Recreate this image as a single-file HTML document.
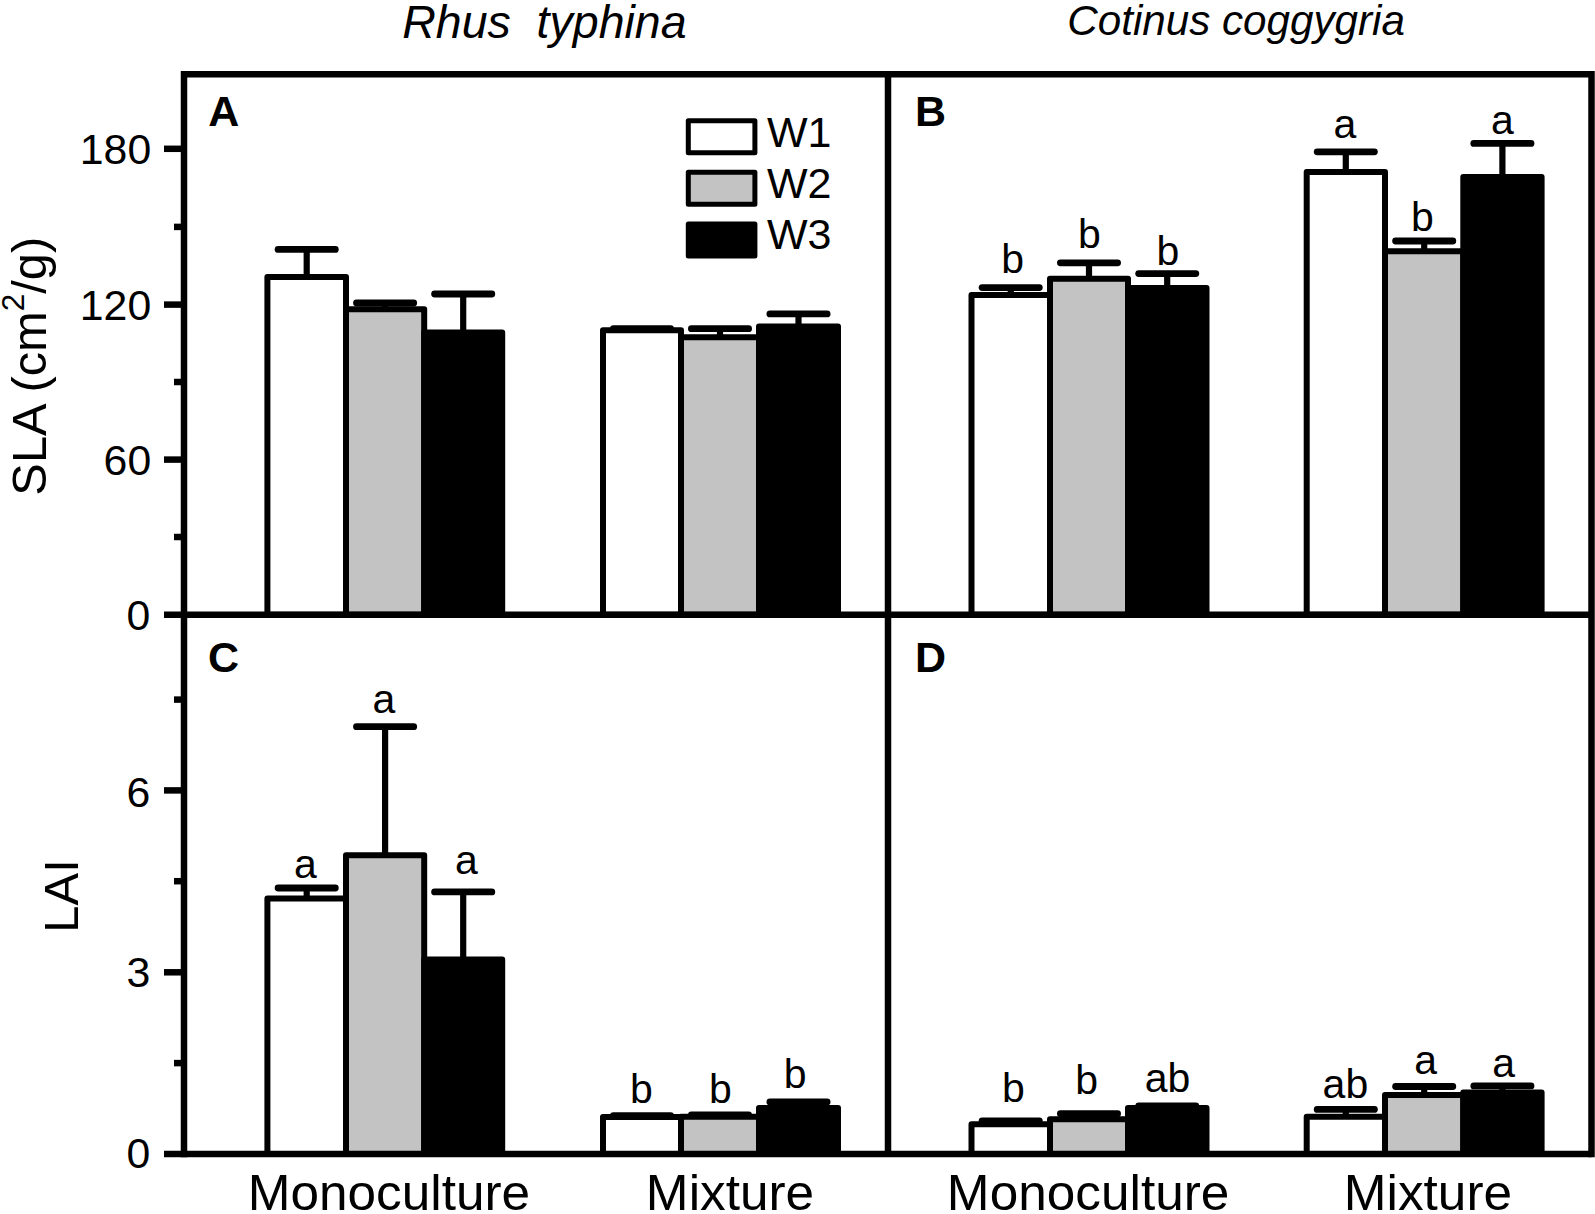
<!DOCTYPE html>
<html lang="en"><head><meta charset="utf-8"><title>SLA and LAI of Rhus typhina and Cotinus coggygria</title>
<style>
html,body{margin:0;padding:0;background:#fff;}
body{width:1595px;height:1214px;overflow:hidden;}
svg{display:block;}
text{font-family:"Liberation Sans", Arial, Helvetica, sans-serif;fill:#000;}
.ax{stroke:#000;stroke-width:6.5;fill:none;stroke-linecap:butt;}
.bar{stroke:#000;stroke-width:6;stroke-linejoin:round;}
.err{stroke:#000;stroke-width:6.2;fill:none;}
.cap{stroke:#000;stroke-width:6.8;fill:none;stroke-linecap:round;}
.sig{font-size:41px;text-anchor:middle;}
.tick{font-size:42.8px;text-anchor:end;}
.cat{font-size:49.6px;text-anchor:middle;}
.pl{font-size:43px;font-weight:bold;}
.leg{font-size:43px;}
</style></head><body>
<svg width="1595" height="1214" viewBox="0 0 1595 1214">
<rect x="0" y="0" width="1595" height="1214" fill="#fff"/>

<g>
<rect class="bar" x="346" y="309.2" width="78.2" height="305.5" fill="#c3c3c3"/>
<rect class="bar" x="267.4" y="277" width="78.6" height="337.7" fill="#fff"/>
<rect class="bar" x="424.2" y="332.5" width="78.0" height="282.2" fill="#000"/>
<line class="err" x1="306.7" y1="277" x2="306.7" y2="249.4"/>
<line class="cap" x1="278.1" y1="249.4" x2="335.3" y2="249.4"/>
<line class="err" x1="385.1" y1="309.2" x2="385.1" y2="303"/>
<line class="cap" x1="356.5" y1="303" x2="413.7" y2="303"/>
<line class="err" x1="463.2" y1="332.5" x2="463.2" y2="294"/>
<line class="cap" x1="434.6" y1="294" x2="491.8" y2="294"/>
</g>
<g>
<rect class="bar" x="681" y="337.3" width="78.0" height="277.4" fill="#c3c3c3"/>
<rect class="bar" x="603" y="330.3" width="78.0" height="284.4" fill="#fff"/>
<rect class="bar" x="759" y="326.5" width="79.0" height="288.2" fill="#000"/>
<line class="err" x1="642.0" y1="330.3" x2="642.0" y2="328.7"/>
<line class="cap" x1="613.4" y1="328.7" x2="670.6" y2="328.7"/>
<line class="err" x1="720.0" y1="337.3" x2="720.0" y2="328.7"/>
<line class="cap" x1="691.4" y1="328.7" x2="748.6" y2="328.7"/>
<line class="err" x1="798.5" y1="326.5" x2="798.5" y2="313.9"/>
<line class="cap" x1="769.9" y1="313.9" x2="827.1" y2="313.9"/>
</g>
<g>
<rect class="bar" x="1050" y="278.8" width="78.0" height="335.9" fill="#c3c3c3"/>
<rect class="bar" x="971.5" y="294.9" width="78.5" height="319.8" fill="#fff"/>
<rect class="bar" x="1128" y="287.9" width="78.5" height="326.8" fill="#000"/>
<line class="err" x1="1010.8" y1="294.9" x2="1010.8" y2="287.6"/>
<line class="cap" x1="982.1" y1="287.6" x2="1039.3" y2="287.6"/>
<line class="err" x1="1089.0" y1="278.8" x2="1089.0" y2="262.8"/>
<line class="cap" x1="1060.4" y1="262.8" x2="1117.6" y2="262.8"/>
<line class="err" x1="1167.2" y1="287.9" x2="1167.2" y2="273.6"/>
<line class="cap" x1="1138.7" y1="273.6" x2="1195.8" y2="273.6"/>
<text class="sig" x="1012.7" y="273">b</text>
<text class="sig" x="1089.5" y="248.3">b</text>
<text class="sig" x="1168" y="265.4">b</text>
</g>
<g>
<rect class="bar" x="1385" y="251.2" width="78.3" height="363.5" fill="#c3c3c3"/>
<rect class="bar" x="1306.7" y="172.1" width="78.3" height="442.6" fill="#fff"/>
<rect class="bar" x="1463.3" y="177" width="78.3" height="437.7" fill="#000"/>
<line class="err" x1="1345.8" y1="172.1" x2="1345.8" y2="151.8"/>
<line class="cap" x1="1317.2" y1="151.8" x2="1374.4" y2="151.8"/>
<line class="err" x1="1424.2" y1="251.2" x2="1424.2" y2="241"/>
<line class="cap" x1="1395.6" y1="241" x2="1452.8" y2="241"/>
<line class="err" x1="1502.4" y1="177" x2="1502.4" y2="143.4"/>
<line class="cap" x1="1473.8" y1="143.4" x2="1531.0" y2="143.4"/>
<text class="sig" x="1345" y="137.5">a</text>
<text class="sig" x="1422.5" y="231.4">b</text>
<text class="sig" x="1502.5" y="133.5">a</text>
</g>
<g>
<rect class="bar" x="346" y="855.3" width="78.2" height="298.8" fill="#c3c3c3"/>
<rect class="bar" x="267.4" y="898.5" width="78.6" height="255.6" fill="#fff"/>
<rect class="bar" x="424.2" y="959.5" width="78.0" height="194.6" fill="#000"/>
<line class="err" x1="306.7" y1="898.5" x2="306.7" y2="888"/>
<line class="cap" x1="278.1" y1="888" x2="335.3" y2="888"/>
<line class="err" x1="385.1" y1="855.3" x2="385.1" y2="726.7"/>
<line class="cap" x1="356.5" y1="726.7" x2="413.7" y2="726.7"/>
<line class="err" x1="463.2" y1="959.5" x2="463.2" y2="891.9"/>
<line class="cap" x1="434.6" y1="891.9" x2="491.8" y2="891.9"/>
<text class="sig" x="305.3" y="877.5">a</text>
<text class="sig" x="384" y="713.2">a</text>
<text class="sig" x="466.5" y="874.3">a</text>
</g>
<g>
<rect class="bar" x="681" y="1116.7" width="78.0" height="37.4" fill="#c3c3c3"/>
<rect class="bar" x="603" y="1117" width="78.0" height="37.1" fill="#fff"/>
<rect class="bar" x="759" y="1108" width="79.0" height="46.1" fill="#000"/>
<line class="err" x1="642.0" y1="1117" x2="642.0" y2="1115.6"/>
<line class="cap" x1="613.4" y1="1115.6" x2="670.6" y2="1115.6"/>
<line class="err" x1="720.0" y1="1116.7" x2="720.0" y2="1115"/>
<line class="cap" x1="691.4" y1="1115" x2="748.6" y2="1115"/>
<line class="err" x1="798.5" y1="1108" x2="798.5" y2="1102"/>
<line class="cap" x1="769.9" y1="1102" x2="827.1" y2="1102"/>
<text class="sig" x="641.5" y="1102.8">b</text>
<text class="sig" x="720.5" y="1102.8">b</text>
<text class="sig" x="795.2" y="1088.1">b</text>
</g>
<g>
<rect class="bar" x="1050" y="1119.3" width="78.0" height="34.8" fill="#c3c3c3"/>
<rect class="bar" x="971.5" y="1124.2" width="78.5" height="29.9" fill="#fff"/>
<rect class="bar" x="1128" y="1108" width="78.5" height="46.1" fill="#000"/>
<line class="err" x1="1010.8" y1="1124.2" x2="1010.8" y2="1120.8"/>
<line class="cap" x1="982.1" y1="1120.8" x2="1039.3" y2="1120.8"/>
<line class="err" x1="1089.0" y1="1119.3" x2="1089.0" y2="1113.7"/>
<line class="cap" x1="1060.4" y1="1113.7" x2="1117.6" y2="1113.7"/>
<line class="err" x1="1167.2" y1="1108" x2="1167.2" y2="1105.8"/>
<line class="cap" x1="1138.7" y1="1105.8" x2="1195.8" y2="1105.8"/>
<text class="sig" x="1013.3" y="1102.4">b</text>
<text class="sig" x="1086.6" y="1094.3">b</text>
<text class="sig" x="1167.5" y="1091.5">ab</text>
</g>
<g>
<rect class="bar" x="1385" y="1095.1" width="78.3" height="59.0" fill="#c3c3c3"/>
<rect class="bar" x="1306.7" y="1116.8" width="78.3" height="37.3" fill="#fff"/>
<rect class="bar" x="1463.3" y="1092.5" width="78.3" height="61.6" fill="#000"/>
<line class="err" x1="1345.8" y1="1116.8" x2="1345.8" y2="1109.4"/>
<line class="cap" x1="1317.2" y1="1109.4" x2="1374.4" y2="1109.4"/>
<line class="err" x1="1424.2" y1="1095.1" x2="1424.2" y2="1086.5"/>
<line class="cap" x1="1395.6" y1="1086.5" x2="1452.8" y2="1086.5"/>
<line class="err" x1="1502.4" y1="1092.5" x2="1502.4" y2="1085.9"/>
<line class="cap" x1="1473.8" y1="1085.9" x2="1531.0" y2="1085.9"/>
<text class="sig" x="1345.4" y="1097.6">ab</text>
<text class="sig" x="1425.7" y="1074.3">a</text>
<text class="sig" x="1503.7" y="1077.3">a</text>
</g>
<g class="ax">
<line x1="184.0" y1="71.05" x2="184.0" y2="1157.35"/>
<line x1="1591.5" y1="71.05" x2="1591.5" y2="1157.35"/>
<line x1="888.0" y1="74.3" x2="888.0" y2="1154.1"/>
<line x1="184.0" y1="74.3" x2="1591.5" y2="74.3"/>
<line x1="164.0" y1="614.7" x2="1591.5" y2="614.7"/>
<line x1="164.0" y1="1154.1" x2="1591.5" y2="1154.1"/>
<line x1="164.0" y1="148.8" x2="184.0" y2="148.8"/>
<line x1="164.0" y1="304.6" x2="184.0" y2="304.6"/>
<line x1="164.0" y1="459.6" x2="184.0" y2="459.6"/>
<line x1="164.0" y1="790.4" x2="184.0" y2="790.4"/>
<line x1="164.0" y1="972.3" x2="184.0" y2="972.3"/>
<line x1="174.0" y1="226.9" x2="184.0" y2="226.9"/>
<line x1="174.0" y1="382.0" x2="184.0" y2="382.0"/>
<line x1="174.0" y1="537.0" x2="184.0" y2="537.0"/>
<line x1="174.0" y1="699.6" x2="184.0" y2="699.6"/>
<line x1="174.0" y1="881.2" x2="184.0" y2="881.2"/>
<line x1="174.0" y1="1063.1" x2="184.0" y2="1063.1"/>
</g>
<text class="tick" x="151.2" y="164.0">180</text>
<text class="tick" x="151.2" y="319.5">120</text>
<text class="tick" x="151.2" y="474.8">60</text>
<text class="tick" x="150.2" y="630.2">0</text>
<text class="tick" x="150.2" y="807.1">6</text>
<text class="tick" x="150.2" y="986.7">3</text>
<text class="tick" x="150.2" y="1168.0">0</text>
<text transform="translate(46.4 366.2) rotate(-90)" font-size="48.8" text-anchor="middle">SLA (cm<tspan font-size="31.5" dy="-22">2</tspan><tspan dy="22">/g)</tspan></text>
<text transform="translate(78 896) rotate(-90)" font-size="49" text-anchor="middle">LAI</text>
<text x="544.4" y="37.6" font-size="46.5" font-style="italic" text-anchor="middle" style="white-space:pre">Rhus  typhina</text>
<text x="1236.1" y="35.4" font-size="42.2" font-style="italic" text-anchor="middle">Cotinus coggygria</text>
<text class="pl" x="208.2" y="126.2">A</text>
<text class="pl" x="915" y="126.3">B</text>
<text class="pl" x="208" y="671.6">C</text>
<text class="pl" x="915" y="671.8">D</text>
<rect x="688.3" y="120.7" width="66.6" height="32" fill="#fff" stroke="#000" stroke-width="5" stroke-linejoin="round"/>
<text class="leg" x="767" y="146.7">W1</text>
<rect x="688.3" y="172.3" width="66.6" height="32" fill="#c3c3c3" stroke="#000" stroke-width="5" stroke-linejoin="round"/>
<text class="leg" x="767" y="198.0">W2</text>
<rect x="688.3" y="224.1" width="66.6" height="32" fill="#000" stroke="#000" stroke-width="5" stroke-linejoin="round"/>
<text class="leg" x="767" y="249.4">W3</text>
<text class="cat" transform="translate(388.9 1210) scale(1.035 1)" x="0" y="0">Monoculture</text>
<text class="cat" transform="translate(730 1210) scale(1.035 1)" x="0" y="0">Mixture</text>
<text class="cat" transform="translate(1088.1 1210) scale(1.035 1)" x="0" y="0">Monoculture</text>
<text class="cat" transform="translate(1427.9 1210) scale(1.035 1)" x="0" y="0">Mixture</text>
</svg>
</body></html>
